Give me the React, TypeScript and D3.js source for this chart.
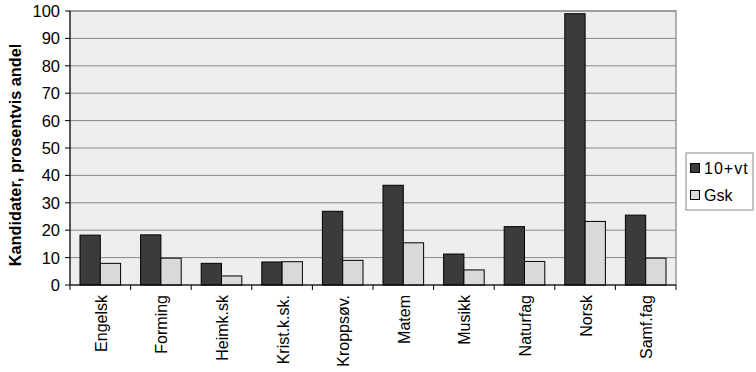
import React from 'react';
import * as d3 from 'd3';

const categories = ['Engelsk', 'Forming', 'Heimk.sk', 'Krist.k.sk.', 'Kroppsøv.', 'Matem', 'Musikk', 'Naturfag', 'Norsk', 'Samf.fag'];
const series1 = [18.2, 18.3, 7.9, 8.4, 26.9, 36.4, 11.3, 21.3, 99.0, 25.5]; // 10+vt
const series2 = [7.9, 9.8, 3.3, 8.5, 9.0, 15.4, 5.5, 8.6, 23.2, 9.8]; // Gsk
const seriesNames = ['10+vt', 'Gsk'];
const yTicks = [0, 10, 20, 30, 40, 50, 60, 70, 80, 90, 100];

const W = 756, H = 372;
const left = 70, right = 676, top = 11, bottom = 285;
const font = 'Liberation Sans, Arial, sans-serif';
const colors = ['#3b3b3b', '#d9d9d9'];

export default function App() {
  const x = d3.scaleBand<string>().domain(categories).range([left, right]).paddingInner(0.33).paddingOuter(0.165);
  const band = d3.scaleBand<number>().domain([0, 1]).range([0, x.bandwidth()]);
  const y = d3.scaleLinear().domain([0, 100]).range([bottom, top]);
  const step = (right - left) / categories.length;
  const data = [series1, series2];

  return (
    <svg width={W} height={H} style={{ position: 'absolute', left: 0, top: 0, background: '#fff' }}>
      <rect x={left} y={top} width={right - left} height={bottom - top} fill="#eeeeee" stroke="#999" strokeWidth={1.5} />
      {yTicks.filter(t => t > 0).map(t => (
        <line key={t} x1={left} x2={right} y1={y(t)} y2={y(t)} stroke="#888" strokeWidth={1} />
      ))}
      {data.map((s, si) => s.map((v, i) => (
        <rect key={si + '-' + i}
          x={(x(categories[i]) as number) + (band(si) as number)}
          y={y(v)} width={band.bandwidth()} height={bottom - y(v)}
          fill={colors[si]} stroke="#000" strokeWidth={1} />
      )))}
      <line x1={left} x2={left} y1={top} y2={bottom} stroke="#000" />
      <line x1={left} x2={right} y1={bottom} y2={bottom} stroke="#000" />
      {yTicks.map(t => (
        <g key={t}>
          <line x1={left - 5} x2={left} y1={y(t)} y2={y(t)} stroke="#000" />
          <text x={left - 10} y={y(t)} dy="0.36em" textAnchor="end" fontFamily={font} fontSize={16.5}>{t}</text>
        </g>
      ))}
      {d3.range(categories.length + 1).map(i => (
        <line key={i} x1={left + i * step} x2={left + i * step} y1={bottom} y2={bottom + 5} stroke="#000" />
      ))}
      {categories.map(c => {
        const cx = (x(c) as number) + x.bandwidth() / 2;
        return (
          <text key={c} transform={`translate(${cx + 6.5},${bottom + 10}) rotate(-90)`} textAnchor="end"
            fontFamily={font} fontSize={16}>{c}</text>
        );
      })}
      <text transform={`translate(21,${(top + bottom) / 2 + 7}) rotate(-90)`} textAnchor="middle"
        fontFamily={font} fontSize={16.3} fontWeight="bold">Kandidater, prosentvis andel</text>
      <g>
        <rect x={686} y={153} width={67} height={57} fill="#fff" stroke="#888" />
        {seriesNames.map((n, i) => (
          <g key={n}>
            <rect x={690.5} y={163.5 + i * 27} width={9} height={9} fill={colors[i]} stroke="#000" />
            <text x={704} y={168 + i * 27} dy="0.36em" fontFamily={font} fontSize={16}
              letterSpacing={i === 0 ? 1 : 0}>{n}</text>
          </g>
        ))}
      </g>
    </svg>
  );
}
